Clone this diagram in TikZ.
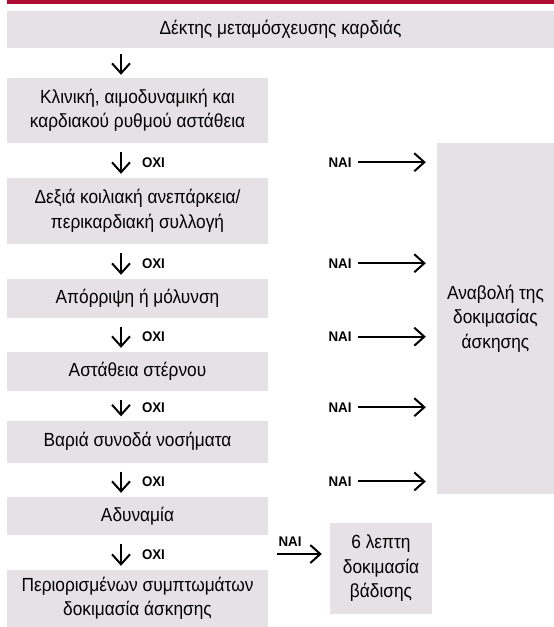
\documentclass[tikz,border=0pt]{standalone}
\usepackage{fontspec}
\setmainfont[FakeStretch=0.91]{Liberation Sans}
\newfontfamily\lblfont[FakeStretch=0.95]{Liberation Sans}
\usepackage{tikz}
\usetikzlibrary{arrows.meta,positioning}
\definecolor{barred}{HTML}{AE0C30}
\definecolor{boxgray}{HTML}{E6E1E4}

\begin{document}
\begin{tikzpicture}[x=1pt,y=-1pt,>={Straight Barb[length=10pt,width=18pt]},font=\fontsize{19}{24.5}\selectfont]

\tikzset{
b/.style={
    fill=boxgray,
    inner sep=0pt,
    minimum width=261pt,
    align=center
},
a/.style={->,line width=2pt,color=black},
l/.style={font=\lblfont\bfseries\fontsize{14}{14}\selectfont,inner sep=1pt}
}

\useasboundingbox (0,0) rectangle (554,627);
\fill[barred] (7,0) rectangle (554,3.5);

\node[b,minimum width=547pt,minimum height=37pt] (recip) at (280.5,29.5) {Δέκτης μεταμόσχευσης καρδιάς};
\node[b,minimum height=65pt] (instab) at (137.5,110.5) {Κλινική, αιμοδυναμική και\\καρδιακού ρυθμού αστάθεια};
\node[b,minimum height=66pt] (rv) at (137.5,211) {Δεξιά κοιλιακή ανεπάρκεια/\\περικαρδιακή συλλογή};
\node[b,minimum height=39pt] (reject) at (137.5,298.5) {Απόρριψη ή μόλυνση};
\node[b,minimum height=39pt] (sternum) at (137.5,371.5) {Αστάθεια στέρνου};
\node[b,minimum height=42pt] (comorb) at (137.5,441.5) {Βαριά συνοδά νοσήματα};
\node[b,minimum height=38pt] (weak) at (137.5,516) {Αδυναμία};
\node[b,minimum height=57pt] (sltest) at (137.5,598.5) {Περιορισμένων συμπτωμάτων\\δοκιμασία άσκησης};

\node[b,minimum width=117pt,minimum height=351pt] (defer) at (495.5,318.5) {Αναβολή της\\δοκιμασίας\\άσκησης};
\node[b,minimum width=102pt,minimum height=91pt] (walk) at (381,568.5) {6 λεπτη\\δοκιμασία\\βάδισης};

% main column
\draw[a,shorten <=6pt,shorten >=3pt] ([xshift=-16.5pt]instab.north |- recip.south) -- ([xshift=-16.5pt]instab.north);
\draw[a,shorten <=9pt,shorten >=4pt] ([xshift=-16.5pt]instab.south) -- node[l,right=19pt,pos=.55] (no1) {ΟΧΙ} ([xshift=-16.5pt]rv.north);
\draw[a,shorten <=9pt,shorten >=4pt] ([xshift=-16.5pt]rv.south) -- node[l,right=19pt,pos=.55] (no2) {ΟΧΙ} ([xshift=-16.5pt]reject.north);
\draw[a,shorten <=9pt,shorten >=4pt] ([xshift=-16.5pt]reject.south) -- node[l,right=19pt,pos=.55] (no3) {ΟΧΙ} ([xshift=-16.5pt]sternum.north);
\draw[a,shorten <=9pt,shorten >=4pt] ([xshift=-16.5pt]sternum.south) -- node[l,right=19pt,pos=.55] (no4) {ΟΧΙ} ([xshift=-16.5pt]comorb.north);
\draw[a,shorten <=9pt,shorten >=4pt] ([xshift=-16.5pt]comorb.south) -- node[l,right=19pt,pos=.55] (no5) {ΟΧΙ} ([xshift=-16.5pt]weak.north);
\draw[a,shorten <=9pt,shorten >=4pt] ([xshift=-16.5pt]weak.south) -- node[l,right=19pt,pos=.55] (no6) {ΟΧΙ} ([xshift=-16.5pt]sltest.north);

% yes branches
\node[l] (yes1) at (340,0 |- no1) {ΝΑΙ};
\node[l] (yes2) at (340,0 |- no2) {ΝΑΙ};
\node[l] (yes3) at (340,0 |- no3) {ΝΑΙ};
\node[l] (yes4) at (340,0 |- no4) {ΝΑΙ};
\node[l] (yes5) at (340,0 |- no5) {ΝΑΙ};
\node[l] (yes6) at (290,542) {ΝΑΙ};

\draw[a,shorten <=5pt,shorten >=11pt] (yes1.east) -- (yes1 -| defer.west);
\draw[a,shorten <=5pt,shorten >=11pt] (yes2.east) -- (yes2 -| defer.west);
\draw[a,shorten <=5pt,shorten >=11pt] (yes3.east) -- (yes3 -| defer.west);
\draw[a,shorten <=5pt,shorten >=11pt] (yes4.east) -- (yes4 -| defer.west);
\draw[a,shorten <=5pt,shorten >=11pt] (yes5.east) -- (yes5 -| defer.west);
\coordinate (yes6a) at ([yshift=-6pt]yes6.south west);
\draw[a,shorten >=8pt] (yes6a) -- (yes6a -| walk.west);

\end{tikzpicture}
\end{document}
